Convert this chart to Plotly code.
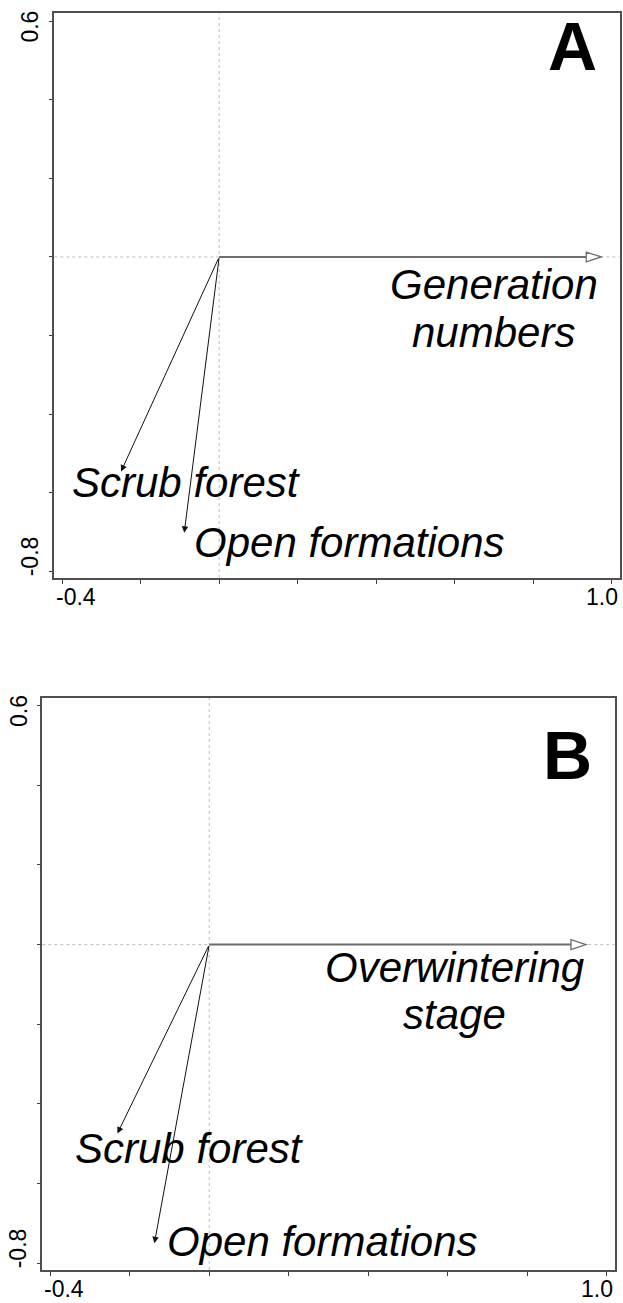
import plotly.graph_objects as go

# ---------------- data ----------------
panels = ["A", "B"]
# biplot vectors (x, y)
env_names = ["Scrub forest", "Open formations"]
env_x_A = [-0.250, -0.089]
env_y_A = [-0.546, -0.702]
env_x_B = [-0.231, -0.138]
env_y_B = [-0.474, -0.750]
trait_name_A = ["Generation", "numbers"]
trait_name_B = ["Overwintering", "stage"]
trait_x_A = 0.973
trait_x_B = 0.948
trait_y = 0.0

x_ticks = [-0.4, -0.2, 0.0, 0.2, 0.4, 0.6, 0.8, 1.0]
y_ticks = [-0.8, -0.6, -0.4, -0.2, 0.0, 0.2, 0.4, 0.6]
x_tick_labels = ["-0.4", "1.0"]     # only end labels printed
y_tick_labels = ["-0.8", "0.6"]

# ---------------- layout / style ----------------
W, H = 623, 1303
FONT = "Liberation Sans, Arial, sans-serif"
X_RANGE = [-0.42, 1.02]
Y_RANGE = [-0.817, 0.62]
dom = {
    "A": dict(x=[54.3 / W, 619.6 / W], y=[1 - 578 / H, 1 - 13.3 / H]),
    "B": dict(x=[42.3 / W, 614.7 / W], y=[1 - 1270 / H, 1 - 697.7 / H]),
}
# label placements (data units) per panel
label_pos = {
    "A": dict(env=[(-0.380, -0.574), (-0.068, -0.727)],
              trait=[(0.700, -0.071), (0.700, -0.193)],
              letter=(0.963, 1.013)),
    "B": dict(env=[(-0.342, -0.513), (-0.111, -0.746)],
              trait=[(0.618, -0.058), (0.618, -0.176)],
              letter=(0.964, 0.970)),
}
data = {
    "A": dict(ex=env_x_A, ey=env_y_A, tx=trait_x_A, tname=trait_name_A),
    "B": dict(ex=env_x_B, ey=env_y_B, tx=trait_x_B, tname=trait_name_B),
}

fig = go.Figure()
shapes = []
annotations = []

for i, p in enumerate(panels):
    sfx = "" if i == 0 else str(i + 1)
    xa, ya = "x" + sfx, "y" + sfx
    axis_common = dict(
        showgrid=False, zeroline=False, showline=True, mirror=True,
        linecolor="#505050", linewidth=1.6, ticks="outside", ticklen=4,
        tickwidth=1, tickcolor="#404040", showticklabels=False, fixedrange=True,
    )
    fig.update_layout(**{
        "xaxis" + sfx: dict(axis_common, domain=dom[p]["x"], range=X_RANGE,
                            tickvals=x_ticks, anchor=ya),
        "yaxis" + sfx: dict(axis_common, domain=dom[p]["y"], range=Y_RANGE,
                            tickvals=y_ticks, anchor=xa),
    })
    # invisible trace so the axes are drawn
    fig.add_trace(go.Scatter(x=[0], y=[0], xaxis=xa, yaxis=ya, mode="markers",
                             marker=dict(opacity=0), hoverinfo="skip",
                             showlegend=False))

    # dotted reference lines through the origin
    shapes.append(dict(type="line", xref=xa, yref=ya + " domain", x0=0, x1=0,
                       y0=0, y1=1, line=dict(color="#bdbdbd", width=1, dash="dot"),
                       layer="below"))
    shapes.append(dict(type="line", xref=xa + " domain", yref=ya, x0=0, x1=1,
                       y0=0, y1=0, line=dict(color="#bdbdbd", width=1, dash="dot"),
                       layer="below"))

    d = data[p]
    # trait arrow (grey, open head)
    head_len, head_half = 0.038, 0.0125
    tx = d["tx"]
    shapes.append(dict(type="line", xref=xa, yref=ya, x0=0, y0=0,
                       x1=tx - head_len, y1=trait_y,
                       line=dict(color="#6e6e6e", width=2)))
    shapes.append(dict(type="path", xref=xa, yref=ya,
                       path=f"M {tx},{trait_y} L {tx - head_len},{trait_y + head_half} "
                            f"L {tx - head_len},{trait_y - head_half} Z",
                       fillcolor="white", line=dict(color="#6e6e6e", width=1.3)))

    # environmental arrows (black, filled heads)
    for vx, vy in zip(d["ex"], d["ey"]):
        annotations.append(dict(xref=xa, yref=ya, axref=xa, ayref=ya,
                                x=vx, y=vy, ax=0, ay=0, text="", showarrow=True,
                                arrowhead=2, arrowsize=1.3, arrowwidth=1,
                                arrowcolor="#111"))

    # labels
    for name, (lx, ly) in zip(env_names, label_pos[p]["env"]):
        annotations.append(dict(xref=xa, yref=ya, x=lx, y=ly, text=f"<i>{name}</i>",
                                showarrow=False, xanchor="left", yanchor="middle",
                                font=dict(family=FONT, size=42, color="black")))
    for line, (lx, ly) in zip(d["tname"], label_pos[p]["trait"]):
        annotations.append(dict(xref=xa, yref=ya, x=lx, y=ly, text=f"<i>{line}</i>",
                                showarrow=False, xanchor="center", yanchor="middle",
                                font=dict(family=FONT, size=42, color="black")))

    # panel letter
    lx, ly = label_pos[p]["letter"]
    annotations.append(dict(xref=xa + " domain", yref=ya + " domain", x=lx, y=ly,
                            text=f"<b>{p}</b>", showarrow=False, xanchor="right",
                            yanchor="top",
                            font=dict(family=FONT, size=68, color="black")))

    # end tick labels aligned with the frame
    annotations.append(dict(xref=xa + " domain", yref=ya + " domain", x=0, y=0,
                            text=x_tick_labels[0], showarrow=False, xanchor="left",
                            yanchor="top", yshift=-4,
                            font=dict(family=FONT, size=23, color="black")))
    annotations.append(dict(xref=xa + " domain", yref=ya + " domain", x=1, y=0,
                            text=x_tick_labels[1], showarrow=False, xanchor="right",
                            yanchor="top", yshift=-4,
                            font=dict(family=FONT, size=23, color="black")))
    annotations.append(dict(xref=xa + " domain", yref=ya + " domain", x=0, y=0,
                            text=y_tick_labels[0], showarrow=False, xanchor="right",
                            yanchor="bottom", textangle=-90, xshift=-9,
                            font=dict(family=FONT, size=23, color="black")))
    annotations.append(dict(xref=xa + " domain", yref=ya + " domain", x=0, y=1,
                            text=y_tick_labels[1], showarrow=False, xanchor="right",
                            yanchor="top", textangle=-90, xshift=-9, yshift=5,
                            font=dict(family=FONT, size=23, color="black")))

fig.update_layout(
    width=W, height=H, margin=dict(l=0, r=0, t=0, b=0),
    paper_bgcolor="white", plot_bgcolor="white",
    shapes=shapes, annotations=annotations, showlegend=False,
    font=dict(family=FONT),
)
fig.write_html("out.html", config={"displayModeBar": False})
